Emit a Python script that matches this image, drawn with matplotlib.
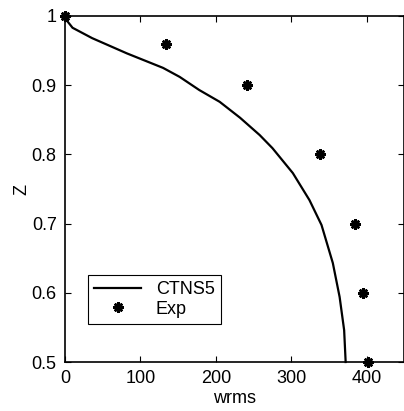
import matplotlib
matplotlib.use("Agg")
import matplotlib.pyplot as plt

# CTNS5 model profile
model_wrms = [0, 2, 10, 36, 82, 130, 152, 178, 205, 232, 258, 275, 302, 324,
              340, 355, 364, 370, 372]
model_z = [1.0, 0.994, 0.983, 0.968, 0.946, 0.925, 0.912, 0.893, 0.876, 0.853,
           0.828, 0.809, 0.773, 0.734, 0.698, 0.643, 0.594, 0.546, 0.5]

# experimental measurements
exp_wrms = [0, 134, 241, 338, 384, 395, 401]
exp_z = [1.0, 0.96, 0.9, 0.8, 0.7, 0.6, 0.5]

xticks = [0, 100, 200, 300, 400]
yticks = [0.5, 0.6, 0.7, 0.8, 0.9, 1.0]
yticklabels = ["0.5", "0.6", "0.7", "0.8", "0.9", "1"]

plt.rcParams['font.family'] = ['Liberation Sans', 'DejaVu Sans']
plt.rcParams['font.size'] = 13

fig = plt.figure(figsize=(4.04, 4.11), dpi=100)
ax = fig.add_axes([65 / 404, 1 - 362 / 411, 339.5 / 404, 346 / 411])

ax.plot(model_wrms, model_z, color='black', linewidth=1.6, label='CTNS5',
        clip_on=False, solid_joinstyle='round')
ax.plot(exp_wrms, exp_z, linestyle='none', marker=(8, 2, 0), markersize=7.5,
        markeredgewidth=1.8, color='black', label='Exp', clip_on=False)

ax.set_xlim(0, 450)
ax.set_ylim(0.5, 1.0)
ax.set_xticks(xticks)
ax.set_yticks(yticks)
ax.set_yticklabels(yticklabels)
ax.tick_params(direction='in', top=True, right=True, length=4, width=0.8, pad=6)
for s in ax.spines.values():
    s.set_linewidth(1.2)

ax.set_xlabel('wrms', labelpad=2)
ax.set_ylabel('Z', labelpad=1)

leg = ax.legend(loc='lower left', bbox_to_anchor=(23 / 339.5, 38 / 346),
                fancybox=False, framealpha=1, edgecolor='black',
                handlelength=2.6, borderpad=0.35, labelspacing=0.15,
                handletextpad=0.8, borderaxespad=0)
leg.get_frame().set_linewidth(0.8)

fig.savefig('out.png', dpi=100)
